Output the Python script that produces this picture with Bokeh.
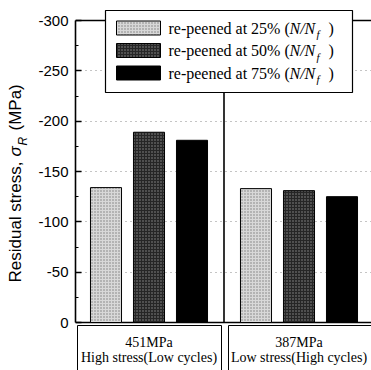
import numpy as np
from bokeh.plotting import figure
from bokeh.layouts import row
from bokeh.models import Range1d, FixedTicker, Span
from bokeh.core.properties import value
from bokeh.embed import file_html
from bokeh.resources import INLINE

# ---------------- data ----------------
group_stress = ["451MPa", "387MPa"]
group_desc = ["High stress(Low cycles)", "Low stress(High cycles)"]
series_names = ["re-peened at 25% (", "re-peened at 50% (", "re-peened at 75% ("]
repeened_25 = [-134, -133]
repeened_50 = [-189, -131]
repeened_75 = [-181, -125]
y_ticks = [-300, -250, -200, -150, -100, -50, 0]
y_tick_labels = ["-300", "-250", "-200", "-150", "-100", "-50", "0"]
y_minor = [-275, -225, -175, -125, -75, -25]
y_title_parts = ["Residual stress,", "\u03c3", "R", "(MPa)"]

# ---------------- layout helpers (pixel -> data) ----------------
def X(px):
    return (px - 148.5) / 150.0

def Y(py):
    return -(322.0 - py) / (302.0 / 300.0)

SERIF = value("Liberation Serif")
SANS = value("Liberation Sans")

# ---- narrow strip holding the rotated y-axis title ----
LW = 30
t = figure(width=LW, height=370, output_backend="svg", toolbar_location=None,
           x_range=Range1d(0, LW), y_range=Range1d(370, 0),
           min_border=0, x_axis_type=None, y_axis_type=None)
t.title.visible = False
t.outline_line_color = None
t.grid.visible = False
for txt, py, size, style, base in zip(y_title_parts, [282, 156, 145, 130],
                                      ["17px", "17px", "12px", "17px"],
                                      ["normal", "italic", "italic", "normal"],
                                      ["middle", "middle", "top", "middle"]):
    t.text(x=[15], y=[py], text=[txt], angle=90, angle_units="deg", text_font=SANS,
           text_font_size=size, text_font_style=style, text_align="left",
           text_baseline=base, text_color="black")

# ---- main chart ----
p = figure(width=371 - LW, height=370, output_backend="svg", toolbar_location=None,
           x_range=Range1d(X(75), X(371)), y_range=Range1d(Y(370), Y(0)),
           min_border_left=75 - LW, min_border_right=0, min_border_top=0, min_border_bottom=0)
p.title.visible = False
p.outline_line_color = None
p.background_fill_color = "white"
p.border_fill_color = "white"
p.xaxis.visible = False
p.xgrid.visible = False

yax = p.yaxis[0]
yax.ticker = FixedTicker(ticks=y_ticks, minor_ticks=y_minor)
yax.major_label_overrides = {tk: lb for tk, lb in zip(y_ticks, y_tick_labels)}
yax.bounds = (-300, 0)
yax.axis_line_width = 1.6
yax.axis_line_color = "black"
yax.major_tick_in = 6
yax.major_tick_out = 0
yax.minor_tick_in = 3
yax.minor_tick_out = 0
yax.major_tick_line_width = 1.3
yax.minor_tick_line_width = 1.2
yax.major_label_standoff = 7
yax.major_label_text_font = "Liberation Sans"
yax.major_label_text_font_size = "15px"
yax.major_label_text_color = "black"

p.ygrid.ticker = FixedTicker(ticks=y_ticks[1:-1])
p.ygrid.grid_line_color = "#8a8a8a"
p.ygrid.grid_line_dash = "1 4"
p.ygrid.grid_line_width = 1

# frame lines
p.add_layout(Span(location=-300, dimension="width", line_color="black", line_width=1.5, level="underlay"))
p.add_layout(Span(location=0, dimension="width", line_color="black", line_width=1.5, level="underlay"))

# bars
styles = [
    dict(fill_color="#d8d8d8", hatch_pattern="dot", hatch_color="#7a7a7a", hatch_scale=3, hatch_weight=1),
    dict(fill_color="#262626", hatch_pattern="dot", hatch_color="#8e8e8e", hatch_scale=3, hatch_weight=1),
    dict(fill_color="black"),
]
series_vals = [repeened_25, repeened_50, repeened_75]
offsets = [-0.2867, 0.0, 0.2867]
bar_w = 0.207
gx = np.arange(len(group_stress))
for vals, off, st in zip(series_vals, offsets, styles):
    p.vbar(x=gx + off, top=vals, bottom=0, width=bar_w, line_color="black", line_width=1, **st)

# divider between groups
p.segment(x0=[0.5], y0=[-300], x1=[0.5], y1=[0], line_color="black", line_width=1.6)

# category boxes
p.quad(left=[X(77), X(228)], right=[X(221), X(380)], top=Y(325), bottom=Y(420),
       fill_color="white", line_color="black", line_width=1)
p.text(x=gx, y=Y(342), text=group_stress, text_font=SERIF, text_font_size="14px",
       text_align="center", text_baseline="middle", text_color="black")
p.text(x=gx, y=Y(357), text=group_desc, text_font=SERIF, text_font_size="14px",
       text_align="center", text_baseline="middle", text_color="black")

# legend
p.quad(left=X(105), right=X(352), top=Y(10), bottom=Y(92), fill_color="white",
       line_color="black", line_width=1.2)
row_centers = [27.5, 50, 72.5]
tx = X(168)
for name, rc, st in zip(series_names, row_centers, styles):
    p.quad(left=X(116), right=X(160), top=Y(rc - 7), bottom=Y(rc + 7), line_color="black",
           line_width=1, **st)
    p.text(x=[tx], y=[Y(rc)], text=[name], text_font=SERIF, text_font_size="16px",
           text_align="left", text_baseline="middle", text_color="black")
    p.text(x=[tx], y=[Y(rc)], text=["N/N"], x_offset=121, text_font=SERIF, text_font_size="16px",
           text_font_style="italic", text_align="left", text_baseline="middle", text_color="black")
    p.text(x=[tx], y=[Y(rc)], text=["f"], x_offset=148, text_font=SERIF, text_font_size="11px",
           text_font_style="italic", text_align="left", text_baseline="top", text_color="black")
    p.text(x=[tx], y=[Y(rc)], text=[")"], x_offset=160, text_font=SERIF, text_font_size="16px",
           text_align="left", text_baseline="middle", text_color="black")

layout = row(t, p, spacing=0)
open("out.html", "w").write(file_html(layout, INLINE))
